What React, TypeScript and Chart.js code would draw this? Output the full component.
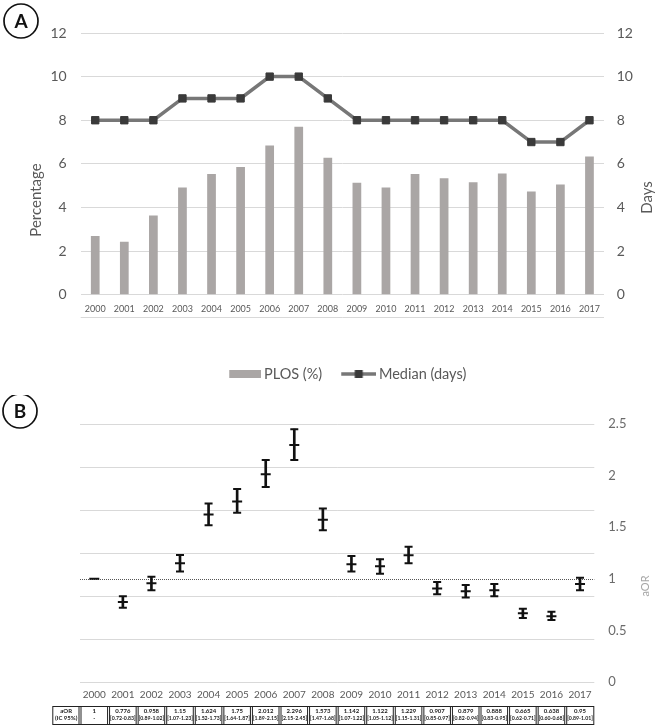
import React, { useEffect, useRef } from 'react';
import { Chart, registerables } from 'chart.js';

Chart.register(...registerables);

// ---------- data ----------
const years = ['2000', '2001', '2002', '2003', '2004', '2005', '2006', '2007', '2008', '2009', '2010', '2011', '2012', '2013', '2014', '2015', '2016', '2017'];
const plosPercent = [2.69, 2.43, 3.63, 4.91, 5.54, 5.85, 6.84, 7.7, 6.28, 5.13, 4.91, 5.54, 5.34, 5.16, 5.56, 4.73, 5.05, 6.34];
const medianDays = [8, 8, 8, 9, 9, 9, 10, 10, 9, 8, 8, 8, 8, 8, 8, 7, 7, 8];
const aor = [1, 0.776, 0.958, 1.15, 1.624, 1.75, 2.012, 2.296, 1.573, 1.142, 1.122, 1.229, 0.907, 0.879, 0.888, 0.665, 0.638, 0.95];
const ciLow = [null, 0.72, 0.89, 1.07, 1.52, 1.64, 1.89, 2.15, 1.47, 1.07, 1.05, 1.15, 0.85, 0.82, 0.83, 0.62, 0.6, 0.89];
const ciHigh = [null, 0.83, 1.02, 1.23, 1.73, 1.87, 2.15, 2.45, 1.68, 1.22, 1.19, 1.31, 0.97, 0.94, 0.95, 0.71, 0.68, 1.01];
const aorLabels = ['1', '0.776', '0.958', '1.15', '1.624', '1.75', '2.012', '2.296', '1.573', '1.142', '1.122', '1.229', '0.907', '0.879', '0.888', '0.665', '0.638', '0.95'];
const ciLabels = ['-', '[0.72-0.83]', '[0.89-1.02]', '[1.07-1.23]', '[1.52-1.73]', '[1.64-1.87]', '[1.89-2.15]', '[2.15-2.45]', '[1.47-1.68]', '[1.07-1.22]', '[1.05-1.12]', '[1.15-1.31]', '[0.85-0.97]', '[0.82-0.94]', '[0.83-0.95]', '[0.62-0.71]', '[0.60-0.68]', '[0.89-1.01]'];
const tableHeader = ['aOR', '(IC 95%)'];
const legendLabels = ['PLOS (%)', 'Median (days)'];
const axisTitlesA = ['Percentage', 'Days'];
const axisTitleB = 'aOR';
const panelLetters = ['A', 'B'];

// ---------- styles ----------
const FONT = "Lato, 'Open Sans', sans-serif";
const BAR = '#aaa6a5';
const LINE = '#777777';
const MARK = '#3a3a3a';
const GRID = '#d9d9d9';
const TICK = '#595959';
const TICK_B = '#6b6b6b';
const ERR = '#111111';

Chart.defaults.font.family = FONT;

function drawVText(ctx: any, text: string, x: number, y: number, font: string, color: string) {
  ctx.save();
  ctx.translate(x, y);
  ctx.rotate(-Math.PI / 2);
  ctx.font = font;
  ctx.fillStyle = color;
  ctx.textAlign = 'center';
  ctx.textBaseline = 'middle';
  ctx.fillText(text, 0, 0);
  ctx.restore();
}

function drawBadge(ctx: any, letter: string, cx: number, cy: number) {
  ctx.save();
  ctx.beginPath();
  ctx.arc(cx, cy, 17, 0, Math.PI * 2);
  ctx.fillStyle = '#ffffff';
  ctx.fill();
  ctx.lineWidth = 1.7;
  ctx.strokeStyle = '#111111';
  ctx.stroke();
  ctx.font = `bold 19px ${FONT}`;
  ctx.fillStyle = '#111111';
  ctx.textAlign = 'center';
  ctx.textBaseline = 'middle';
  ctx.fillText(letter, cx, cy + 1);
  ctx.restore();
}

function barSwatch() {
  const c = document.createElement('canvas');
  c.width = 47;
  c.height = 10;
  const g = c.getContext('2d') as any;
  g.fillStyle = BAR;
  g.fillRect(15, 1, 32, 8);
  return c;
}

function lineSwatch() {
  const c = document.createElement('canvas');
  c.width = 47;
  c.height = 10;
  const g = c.getContext('2d') as any;
  g.strokeStyle = LINE;
  g.lineWidth = 3.5;
  g.beginPath();
  g.moveTo(12, 5);
  g.lineTo(47, 5);
  g.stroke();
  g.fillStyle = MARK;
  g.fillRect(25.5, 1, 8, 8);
  return c;
}

const decorA = {
  id: 'decorA',
  afterDraw(chart: any) {
    const { ctx, chartArea, scales } = chart;
    ctx.save();
    const yLine = Math.round(scales.x.top + 22.6) + 0.5;
    ctx.strokeStyle = GRID;
    ctx.lineWidth = 1;
    ctx.beginPath();
    ctx.moveTo(chartArea.left, yLine);
    ctx.lineTo(chartArea.right, yLine);
    ctx.stroke();
    ctx.restore();
    drawVText(ctx, axisTitlesA[0], 36, 200, `15px ${FONT}`, TICK);
    drawVText(ctx, axisTitlesA[1], 646.7, 197.5, `15px ${FONT}`, TICK);
    drawBadge(ctx, panelLetters[0], 21, 21);
  },
};

const decorB = {
  id: 'decorB',
  beforeDatasetsDraw(chart: any) {
    const { ctx, chartArea, scales } = chart;
    const y = Math.round(scales.y.getPixelForValue(1)) + 0.5;
    ctx.save();
    ctx.strokeStyle = '#555555';
    ctx.lineWidth = 1;
    ctx.setLineDash([1, 1]);
    ctx.beginPath();
    ctx.moveTo(chartArea.left, y);
    ctx.lineTo(chartArea.right, y);
    ctx.stroke();
    ctx.restore();
  },
  afterDraw(chart: any) {
    const { ctx, scales } = chart;
    drawVText(ctx, axisTitleB, 645, 191, `11px ${FONT}`, '#a6a6a6');
    drawBadge(ctx, panelLetters[1], 20, 16);

    // table under the axis
    const xs = scales.x;
    const step = xs.getPixelForValue(1) - xs.getPixelForValue(0);
    const top = 311;
    const bot = 330;
    const left0 = 52.3;
    const left1 = xs.getPixelForValue(0) - step / 2;
    const right = xs.getPixelForValue(years.length - 1) + step / 2;
    ctx.save();
    ctx.fillStyle = '#ffffff';
    ctx.fillRect(left0, top, right - left0, bot - top);
    ctx.strokeStyle = '#222222';
    ctx.lineWidth = 1;
    ctx.strokeRect(left0 + 0.5, top + 0.5, right - left0 - 1, bot - top - 1);
    for (let k = 0; k < years.length; k++) {
      const b = left1 + k * step;
      ctx.beginPath();
      ctx.moveTo(b - 1, top);
      ctx.lineTo(b - 1, bot);
      ctx.moveTo(b + 1, top);
      ctx.lineTo(b + 1, bot);
      ctx.stroke();
    }
    ctx.fillStyle = '#222222';
    ctx.textAlign = 'center';
    ctx.textBaseline = 'middle';
    ctx.font = `bold 6px ${FONT}`;
    const hx = (left0 + left1) / 2;
    ctx.fillText(tableHeader[0], hx, 316, left1 - left0 - 3);
    ctx.fillText(tableHeader[1], hx, 323.5, left1 - left0 - 3);
    for (let i = 0; i < years.length; i++) {
      const cx = xs.getPixelForValue(i);
      ctx.font = `bold 6px ${FONT}`;
      ctx.fillText(aorLabels[i], cx, 316, step - 4);
      ctx.font = `bold 5.6px ${FONT}`;
      ctx.fillText(ciLabels[i], cx, 323.5, step - 3);
    }
    ctx.restore();
  },
};

export default function App() {
  const refA = useRef<HTMLCanvasElement>(null);
  const refB = useRef<HTMLCanvasElement>(null);

  useEffect(() => {
    const swatches = [barSwatch(), lineSwatch()];

    const chartA = new Chart(refA.current as any, {
      type: 'bar',
      data: {
        labels: years,
        datasets: [
          {
            type: 'bar',
            label: legendLabels[0],
            data: plosPercent,
            backgroundColor: BAR,
            yAxisID: 'y',
            barPercentage: 0.3,
            categoryPercentage: 1,
            order: 2,
          } as any,
          {
            type: 'line',
            label: legendLabels[1],
            data: medianDays,
            borderColor: LINE,
            borderWidth: 3.5,
            pointStyle: 'rect',
            pointRadius: 5.2,
            pointBackgroundColor: MARK,
            pointBorderColor: MARK,
            pointBorderWidth: 1,
            yAxisID: 'y1',
            tension: 0,
            order: 1,
          } as any,
        ],
      },
      options: {
        responsive: false,
        animation: false,
        events: [],
        layout: { padding: { left: 24, right: 0, top: 33, bottom: 3.75 } },
        plugins: {
          tooltip: { enabled: false },
          legend: {
            position: 'bottom',
            labels: {
              usePointStyle: true,
              pointStyleWidth: 38,
              padding: 11.5,
              color: TICK,
              font: { size: 14.5, family: FONT },
              generateLabels: (chart: any) =>
                chart.data.datasets.map((ds: any, i: number) => ({
                  text: ds.label,
                  pointStyle: swatches[i],
                  fillStyle: 'transparent',
                  strokeStyle: 'transparent',
                  lineWidth: 0,
                  hidden: false,
                  fontColor: TICK,
                  datasetIndex: i,
                })),
            },
          },
        },
        scales: {
          x: {
            grid: { display: false, drawTicks: false },
            border: { display: false },
            ticks: { font: { size: 9 }, color: TICK, padding: 9.2, maxRotation: 0, autoSkip: false },
            afterFit: (s: any) => { s.height = 60.55; },
          },
          y: {
            position: 'left',
            min: 0,
            max: 12,
            ticks: { stepSize: 2, font: { size: 14 }, color: TICK, padding: 14 },
            grid: { color: GRID, drawTicks: false, lineWidth: 1 },
            border: { display: false },
            afterFit: (s: any) => { s.width = 56.7; },
          },
          y1: {
            position: 'right',
            min: 0,
            max: 12,
            ticks: { stepSize: 2, font: { size: 14 }, color: TICK, padding: 12.7 },
            grid: { drawOnChartArea: false, drawTicks: false },
            border: { display: false },
            afterFit: (s: any) => { s.width = 57; },
          },
        } as any,
      },
      plugins: [decorA],
    } as any);

    const capStyle = {
      type: 'line',
      showLine: false,
      pointStyle: 'line',
      pointRadius: 4,
      pointBorderWidth: 2,
      pointBorderColor: ERR,
      borderColor: ERR,
      yAxisID: 'y',
      order: 1,
    };

    const chartB = new Chart(refB.current as any, {
      type: 'bar',
      data: {
        labels: years,
        datasets: [
          {
            type: 'bar',
            data: years.map((_, i) => (ciLow[i] == null ? null : [ciLow[i], ciHigh[i]])),
            backgroundColor: ERR,
            barThickness: 2,
            yAxisID: 'y',
            order: 3,
          } as any,
          { ...capStyle, data: ciHigh } as any,
          { ...capStyle, data: ciLow } as any,
          { ...capStyle, data: aor, pointRadius: 5, order: 0 } as any,
        ],
      },
      options: {
        responsive: false,
        animation: false,
        events: [],
        layout: { padding: { left: 0, right: 0, top: 29, bottom: 0 } },
        plugins: { legend: { display: false }, tooltip: { enabled: false } },
        scales: {
          x: {
            grid: { display: false, drawTicks: false },
            border: { display: false },
            ticks: { font: { size: 10 }, color: TICK, padding: 6.5, maxRotation: 0, autoSkip: false },
            afterFit: (s: any) => { s.height = 44; },
          },
          yg: {
            position: 'left',
            min: 0,
            max: 12,
            ticks: { display: false, stepSize: 2 },
            grid: { color: GRID, drawTicks: false },
            border: { display: false },
            afterFit: (s: any) => { s.width = 80; },
          },
          y: {
            position: 'right',
            min: 0,
            max: 2.5,
            ticks: {
              stepSize: 0.5,
              font: { size: 13 },
              color: TICK_B,
              padding: 14,
              callback: (v: any) => String(Number(v)),
            },
            grid: { display: false, drawTicks: false },
            border: { display: false },
            afterFit: (s: any) => { s.width = 66.7; },
          },
        } as any,
      },
      plugins: [decorB],
    } as any);

    return () => {
      chartA.destroy();
      chartB.destroy();
    };
  }, []);

  return (
    <div style={{ position: 'absolute', left: 0, top: 0, width: 661, height: 726, background: '#ffffff' }}>
      <canvas ref={refA} width={661} height={395} style={{ position: 'absolute', left: 0, top: 0, width: 661, height: 395, display: 'block' }} />
      <canvas ref={refB} width={661} height={331} style={{ position: 'absolute', left: 0, top: 395, width: 661, height: 331, display: 'block' }} />
    </div>
  );
}
